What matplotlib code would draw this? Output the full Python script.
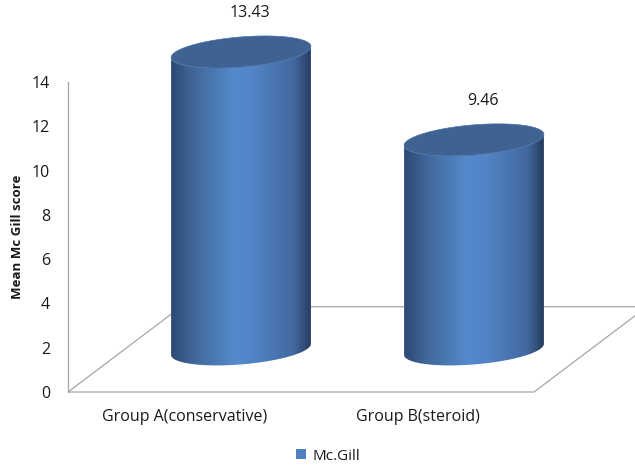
import numpy as np
import matplotlib
matplotlib.use("Agg")
import matplotlib.pyplot as plt
from matplotlib.patches import Polygon, Patch
from matplotlib.colors import LinearSegmentedColormap

plt.rcParams['font.family'] = ['Open Sans', 'DejaVu Sans']

# Data
categories = ['Group A(conservative)', 'Group B(steroid)']
scores = [13.43, 9.46]
series_name = 'Mc.Gill'
y_ticks = [0, 2, 4, 6, 8, 10, 12, 14]

# 3D look (in data units)
DX, DY = 0.485, 3.85      # floor depth offset
RX, RY, SHEAR = 0.30, 0.68, 0.25  # cylinder radius, ellipse height, tilt

gridcol = '#a6a6a6'
textcol = '#1a1a1a'
grad = LinearSegmentedColormap.from_list('cyl', [
    (0.0, (0.17, 0.29, 0.45)),
    (0.15, (0.25, 0.40, 0.60)),
    (0.45, (0.33, 0.54, 0.80)),
    (0.58, (0.32, 0.52, 0.78)),
    (0.88, (0.26, 0.41, 0.63)),
    (1.0, (0.15, 0.24, 0.38)),
])

fig = plt.figure(figsize=(6.35, 4.66), dpi=100)
ax = fig.add_axes([68 / 635, 74 / 466, 466 / 635, 310 / 466])

# floor
floor = Polygon([(-0.5, 0), (1.5, 0), (1.5 + DX, DY), (-0.5 + DX, DY)],
                closed=True, fill=False, edgecolor=gridcol, lw=0.9,
                clip_on=False, zorder=1)
ax.add_patch(floor)

def ellipse_pts(cx, cy, t):
    return cx + RX * np.cos(t), cy + RY * np.sin(t) + SHEAR * np.cos(t)

for i, v in enumerate(scores):
    cx = i + DX / 2
    yb = DY / 2
    yt = yb + v

    # cylinder body, shaded with a horizontal gradient
    t_low = np.linspace(np.pi, 2 * np.pi, 80)
    bx, by = ellipse_pts(cx, yb, t_low)
    tx, ty = ellipse_pts(cx, yt, t_low[::-1])
    body = Polygon(np.column_stack([np.r_[bx, tx], np.r_[by, ty]]),
                   closed=True, facecolor='none', edgecolor='none',
                   clip_on=False, zorder=3)
    ax.add_patch(body)

    img = np.linspace(0, 1, 200).reshape(1, -1)
    im = ax.imshow(img, cmap=grad, aspect='auto', interpolation='bilinear',
                   extent=[cx - RX, cx + RX, yb - RY - SHEAR - 0.1, yt + RY + SHEAR],
                   zorder=3)
    im.set_clip_box(fig.bbox)
    im.set_clip_path(body)

    # top cap
    t_all = np.linspace(0, 2 * np.pi, 160)
    ex, ey = ellipse_pts(cx, yt, t_all)
    cap = Polygon(np.column_stack([ex, ey]), closed=True,
                  facecolor='#3e6393', edgecolor='#4b71a4', lw=0.5,
                  clip_on=False, zorder=4)
    ax.add_patch(cap)

    ax.text(cx + 0.04, yt + 1.75, f'{v:.2f}', ha='center', va='center',
            fontsize=11.5, color=textcol, clip_on=False)

ax.set_xlim(-0.5, 1.5)
ax.set_ylim(0, 14)
ax.set_xticks(range(len(categories)))
ax.set_xticklabels(categories)
ax.set_yticks(y_ticks)
ax.tick_params(axis='both', length=0, labelsize=11.5, colors=textcol)
ax.tick_params(axis='y', pad=13)
ax.tick_params(axis='x', pad=12)
for s in ['top', 'right', 'bottom']:
    ax.spines[s].set_visible(False)
ax.spines['left'].set_color(gridcol)
ax.spines['left'].set_linewidth(0.9)
ax.patch.set_visible(False)

fig.text(18 / 635, 1 - 237 / 466, 'Mean Mc Gill score', rotation=90,
         ha='center', va='center', fontsize=9.5, fontweight='bold',
         color=textcol)

fig.legend(handles=[Patch(facecolor='#4f81bd', label=series_name)],
           loc='center', bbox_to_anchor=(328 / 635, 1 - 456 / 466),
           frameon=False, fontsize=11, handlelength=0.65, handleheight=0.65,
           handletextpad=0.4, labelcolor=textcol)

fig.savefig('out.png', dpi=100)
